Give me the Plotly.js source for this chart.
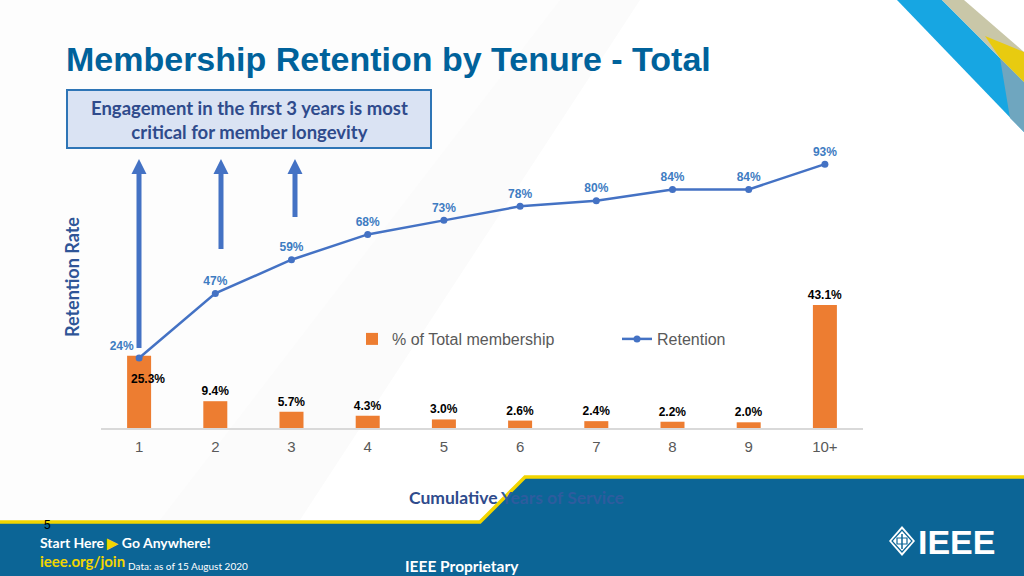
<!DOCTYPE html>
<html>
<head>
<meta charset="utf-8">
<script src="https://cdn.plot.ly/plotly-3.0.1.min.js"></script>
<style>html,body{margin:0;padding:0;background:#fff;}#chart{width:1024px;height:576px;}</style>
</head>
<body>
<div id="chart"></div>
<script>
// ---- data ----
const tenure = ['1','2','3','4','5','6','7','8','9','10+'];
const shareOfMembership = [25.3, 9.4, 5.7, 4.3, 3.0, 2.6, 2.4, 2.2, 2.0, 43.1];
const retention = [24, 47, 59, 68, 73, 78, 80, 84, 84, 93];
const seriesNames = ['% of Total membership', 'Retention'];

// ---- layout helpers (pixel -> paper) for decoration ----
const L = 101, R = 863, T = 140, B = 428;
const px = x => (x - L) / (R - L);
const py = y => (B - y) / (B - T);
const path = (pts, close = true) =>
  pts.map((p, i) => (i ? 'L' : 'M') + px(p[0]).toFixed(5) + ',' + py(p[1]).toFixed(5)).join(' ') + (close ? ' Z' : '');
const pshape = (pts, fill, line, lw, close = true, layer = 'below') => ({
  type: 'path', xref: 'paper', yref: 'paper', layer: layer,
  path: path(pts, close), fillcolor: close ? fill : 'rgba(0,0,0,0)',
  line: {color: line || 'rgba(0,0,0,0)', width: lw || 0}
});
const arrow = (x, yb, yt) => pshape([
  [x - 2.5, yb], [x - 2.5, yt + 15], [x - 7.5, yt + 15], [x, yt], [x + 7.5, yt + 15], [x + 2.5, yt + 15], [x + 2.5, yb]
], '#4472C4', null, 0, true, 'above');

const labelFont = {family: 'Liberation Sans, Arial', size: 12, color: '#000', weight: 'bold'};

const bars = {
  type: 'bar', x: tenure, y: shareOfMembership, name: seriesNames[0],
  marker: {color: '#ED7D31'},
  texttemplate: '%{y:.1f}%',
  textposition: shareOfMembership.map((v, i) => i === 0 ? 'none' : 'outside'),
  constraintext: 'none',
  textfont: labelFont,
  outsidetextfont: labelFont,
  cliponaxis: false, hoverinfo: 'skip'
};
const line = {
  type: 'scatter', mode: 'lines+markers+text', x: tenure, y: retention, name: seriesNames[1],
  yaxis: 'y2',
  line: {color: '#4472C4', width: 2.5},
  marker: {color: '#4472C4', size: 7},
  texttemplate: '%{y:.0f}%',
  textposition: retention.map((v, i) => i === 0 ? 'top left' : 'top center'),
  textfont: {family: 'Liberation Sans, Arial', size: 12, color: '#3E7CC2', weight: 'bold'},
  cliponaxis: false, hoverinfo: 'skip'
};

const shapes = [
  // faint background streaks
  pshape([[0, 0], [640, 0], [300, 520], [0, 520]], '#fbfbfb', null, 0),
  pshape([[0, 0], [560, 0], [160, 520], [0, 520]], '#fdfdfd', null, 0),
  // top-right stripes
  pshape([[897, 0], [942, 0], [1024, 82], [1024, 132]], '#17A6E2', null, 0),
  pshape([[1000, 58], [1024, 82], [1024, 132], [1010, 118]], '#6FA6BF', null, 0),
  pshape([[942, 0], [964, 0], [1024, 52], [1024, 82]], '#C9C7A8', null, 0),
  pshape([[985, 36], [1024, 52], [1024, 82], [1000, 58]], '#E8CB10', null, 0),
  // callout box
  {type: 'rect', xref: 'paper', yref: 'paper', layer: 'below',
   x0: px(67), x1: px(431), y0: py(148), y1: py(90),
   fillcolor: '#DAE3F3', line: {color: '#2E75B6', width: 2}},
  // arrows
  arrow(139, 348, 159), arrow(221, 249, 159), arrow(295, 217, 159),
  // footer
  pshape([[0, 522], [480, 522], [525, 477], [1024, 477], [1024, 576], [0, 576]], '#0C6596', null, 0, true, 'above'),
  pshape([[-2, 522], [480, 522], [525, 477], [1026, 477]], null, '#F2D500', 3.5, false, 'above'),
  // IEEE diamond
  pshape([[902, 526], [915, 541], [902, 556], [889, 541]], '#FFFFFF', null, 0, true, 'above'),
  pshape([[902, 530], [912, 541], [902, 552], [892, 541]], 'rgba(0,0,0,0)', '#0C6596', 1.2, true, 'above'),
  pshape([[902, 534], [902, 549]], null, '#0C6596', 1.5, false, 'above'),
  pshape([[897, 538], [907, 538], [907, 544], [897, 544]], 'rgba(0,0,0,0)', '#0C6596', 1.2, true, 'above')
];

const F = 'Lato, Open Sans, sans-serif';
const annotations = [
  {xref: 'paper', yref: 'paper', x: px(64), y: py(59), xanchor: 'left', yanchor: 'middle', showarrow: false,
   text: 'Membership Retention by Tenure - Total',
   font: {family: 'Liberation Sans, Arial', size: 34, color: '#00629B', weight: 'bold'}},
  {xref: 'paper', yref: 'paper', x: px(249), y: py(120), xanchor: 'center', yanchor: 'middle', showarrow: false,
   text: 'Engagement in the first 3 years is most<br>critical for member longevity', align: 'center',
   font: {family: F, size: 18.5, color: '#2F4B8C', weight: 'bold'}},
  {xref: 'paper', yref: 'paper', x: px(72), y: py(277), xanchor: 'center', yanchor: 'middle', showarrow: false,
   textangle: -90, text: 'Retention Rate',
   font: {family: F, size: 18, color: '#2F5597', weight: 'bold'}},
  {xref: 'paper', yref: 'paper', x: px(407), y: py(497), xanchor: 'left', yanchor: 'middle', showarrow: false,
   text: 'Cumulative <span style="color:#2E5C9E">Years of Service</span>',
   font: {family: F, size: 17.5, color: '#2F4B8C', weight: 'bold'}},
  // label for the first bar, sitting inside it
  {x: tenure.indexOf(tenure[0]), y: shareOfMembership[0], xref: 'x', yref: 'y', showarrow: false, yshift: -23, xshift: 9,
   text: shareOfMembership[0].toFixed(1) + '%', font: labelFont},
  // footer texts
  {xref: 'paper', yref: 'paper', x: px(42), y: py(525), xanchor: 'left', yanchor: 'middle', showarrow: false,
   text: '5', font: {family: 'Liberation Sans, Arial', size: 12, color: '#000'}},
  {xref: 'paper', yref: 'paper', x: px(38), y: py(542), xanchor: 'left', yanchor: 'middle', showarrow: false,
   text: 'Start Here <span style="color:#F2D500">▶</span> Go Anywhere!',
   font: {family: F, size: 14, color: '#FFFFFF', weight: 'bold'}},
  {xref: 'paper', yref: 'paper', x: px(38), y: py(561), xanchor: 'left', yanchor: 'middle', showarrow: false,
   text: 'ieee.org/join', font: {family: F, size: 15, color: '#F2D500', weight: 'bold'}},
  {xref: 'paper', yref: 'paper', x: px(126), y: py(566), xanchor: 'left', yanchor: 'middle', showarrow: false,
   text: 'Data: as of 15 August 2020', font: {family: F, size: 10, color: '#FFFFFF'}},
  {xref: 'paper', yref: 'paper', x: px(403), y: py(566), xanchor: 'left', yanchor: 'middle', showarrow: false,
   text: 'IEEE Proprietary', font: {family: F, size: 15.5, color: '#FFFFFF', weight: 'bold'}},
  {xref: 'paper', yref: 'paper', x: px(916), y: py(542), xanchor: 'left', yanchor: 'middle', showarrow: false,
   text: 'IEEE', font: {family: 'Liberation Sans, Arial', size: 34, color: '#FFFFFF', weight: 'bold'}}
];

const layout = {
  width: 1024, height: 576,
  margin: {l: L, r: 1024 - R, t: T, b: 576 - B, pad: 0},
  paper_bgcolor: '#FFFFFF', plot_bgcolor: 'rgba(0,0,0,0)',
  showlegend: true,
  legend: {orientation: 'h', x: px(352), y: py(339), xanchor: 'left', yanchor: 'middle',
           font: {family: 'Liberation Sans, Arial', size: 16, color: '#595959'},
           bgcolor: 'rgba(0,0,0,0)', entrywidth: 220, traceorder: 'normal'},
  bargap: 0.685,
  xaxis: {type: 'category', range: [-0.5, tenure.length - 0.5], showline: true, linecolor: '#D9D9D9', linewidth: 1.5, ticks: '',
          showgrid: false, zeroline: false, fixedrange: true, ticklabelstandoff: 4,
          tickfont: {family: 'Liberation Sans, Arial', size: 15, color: '#595959'}},
  yaxis: {range: [0, 101], visible: false, showgrid: false, zeroline: false, fixedrange: true},
  yaxis2: {range: [-0.9, 101.6], overlaying: 'y', visible: false, showgrid: false, zeroline: false, fixedrange: true},
  shapes: shapes,
  annotations: annotations
};

Plotly.newPlot('chart', [bars, line], layout, {displayModeBar: false, staticPlot: true});
</script>
</body>
</html>
